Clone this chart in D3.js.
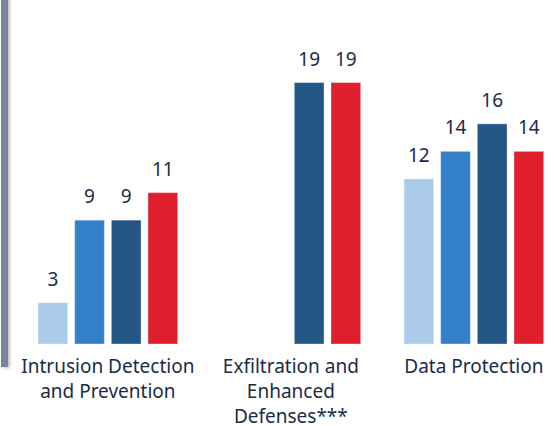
<!DOCTYPE html>
<html>
<head>
<meta charset="utf-8">
<script src="https://cdn.jsdelivr.net/npm/d3@7"></script>
<style>
  body { margin: 0; background: #fff; }
  svg { display: block; }
</style>
</head>
<body>
<div id="chart"></div>
<script>
"use strict";

// === DATA ===
const categories = ["Intrusion Detection and Prevention", "Exfiltration and Enhanced Defenses***", "Data Protection"];
const categoryLines = [
  ["Intrusion Detection", "and Prevention"],
  ["Exfiltration and", "Enhanced", "Defenses***"],
  ["Data Protection"]
];
const seriesNames = ["Series 1", "Series 2", "Series 3", "Series 4"];
const seriesColors = ["#abcbea", "#3480c8", "#235585", "#df1f2d"];
// one array per series, null = no bar
const series1 = [3, null, 12];
const series2 = [9, null, 14];
const series3 = [9, 19, 16];
const series4 = [11, 19, 14];
const allSeries = [series1, series2, series3, series4];

// === SVG SETUP ===
const W = 554, H = 426;
const baseY = 344;
const textColor = "#1b2b48";
const font = "'Noto Sans', sans-serif";

const svg = d3.select("#chart").append("svg")
  .attr("width", W)
  .attr("height", H);

// gray rule on the left edge
const defs = svg.append("defs");
const blur = defs.append("filter").attr("id", "shadow")
  .attr("x", "-50%").attr("width", "300%");
blur.append("feDropShadow")
  .attr("dx", 2).attr("dy", 1).attr("stdDeviation", 1.5)
  .attr("flood-color", "#000").attr("flood-opacity", 0.25);

svg.append("rect")
  .attr("x", 1).attr("y", -5)
  .attr("width", 7).attr("height", 372)
  .attr("fill", "#77879b")
  .attr("filter", "url(#shadow)");

// === SCALES ===
const x0 = d3.scaleBand()
  .domain(categories)
  .range([38, 543.7])
  .paddingInner(0.2366)
  .paddingOuter(0);

const x1 = d3.scaleBand()
  .domain(seriesNames)
  .range([0, x0.bandwidth()])
  .paddingInner(0.19)
  .paddingOuter(0);

const color = d3.scaleOrdinal().domain(seriesNames).range(seriesColors);

const y = d3.scaleLinear()
  .domain([0, 25])
  .range([baseY, 0]);

// build rows for drawing
const rows = [];
categories.forEach((c, ci) => {
  seriesNames.forEach((s, si) => {
    const v = allSeries[si][ci];
    if (v != null) rows.push({ cat: c, ser: s, value: v });
  });
});

// === BARS ===
svg.append("g").selectAll("rect")
  .data(rows)
  .join("rect")
  .attr("x", d => x0(d.cat) + x1(d.ser))
  .attr("y", d => y(d.value))
  .attr("width", x1.bandwidth())
  .attr("height", d => y(0) - y(d.value))
  .attr("fill", d => color(d.ser))
  .attr("stroke", "#fff")
  .attr("stroke-opacity", 0.35)
  .attr("stroke-width", 1);

// === VALUE LABELS ===
svg.append("g").selectAll("text")
  .data(rows)
  .join("text")
  .attr("x", d => x0(d.cat) + x1(d.ser) + x1.bandwidth() / 2)
  .attr("y", d => y(d.value) - 17)
  .attr("text-anchor", "middle")
  .attr("font-family", font)
  .attr("font-size", "19px")
  .attr("fill", textColor)
  .text(d => d.value);

// === CATEGORY LABELS ===
const catG = svg.append("g");
categories.forEach((c, i) => {
  const t = catG.append("text")
    .attr("x", x0(c) + x0.bandwidth() / 2)
    .attr("y", 372.5)
    .attr("text-anchor", "middle")
    .attr("font-family", font)
    .attr("font-size", "19px")
    .attr("fill", textColor);
  categoryLines[i].forEach((line, li) => {
    t.append("tspan")
      .attr("x", x0(c) + x0.bandwidth() / 2)
      .attr("y", 372.5 + li * 25)
      .text(line);
  });
});
</script>
</body>
</html>
